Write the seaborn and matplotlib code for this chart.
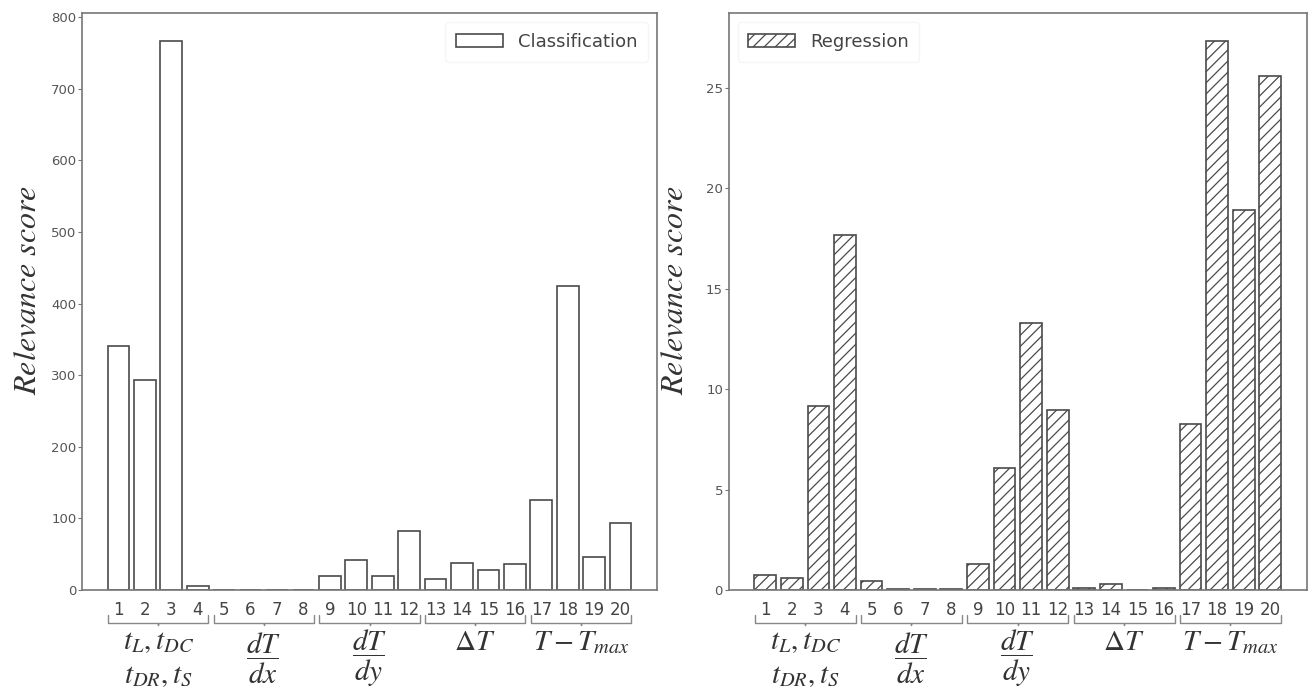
import numpy as np
import pandas as pd
import matplotlib
matplotlib.use("Agg")
import matplotlib.pyplot as plt
import seaborn as sns

# data
features = [str(i) for i in range(1, 21)]
classification = [341, 293, 767, 5, 0.5, 0.5, 0.5, 0.5, 20, 42, 20, 82,
                  15, 38, 28, 36, 125, 425, 46, 93]
regression = [0.73, 0.6, 9.14, 17.65, 0.43, 0.03, 0.03, 0.07, 1.28, 6.07,
              13.3, 8.94, 0.12, 0.28, 0.0, 0.08, 8.26, 27.33, 18.9, 25.59]
groups = ["$t_L, t_{DC}$\n$t_{DR}, t_S$", r"$\dfrac{dT}{dx}$", r"$\dfrac{dT}{dy}$",
          r"$\Delta T$", r"$T - T_{max}$"]

sns.set_style("white")
plt.rcParams["mathtext.fontset"] = "stix"
plt.rcParams["font.family"] = ["DejaVu Sans"]
plt.rcParams["hatch.color"] = "#3a3a3a"
plt.rcParams["hatch.linewidth"] = 0.9

df = pd.DataFrame({"feature": features, "cls": classification, "reg": regression})

fig = plt.figure(figsize=(13.12, 6.97), dpi=100)
ax1 = fig.add_axes([0.0625, 0.1535, 0.4383, 0.8275])
ax2 = fig.add_axes([0.5553, 0.1535, 0.4409, 0.8275])

edge = "#4a4a4a"
sns.barplot(data=df, x="feature", y="cls", color="white", edgecolor=edge,
            linewidth=1.2, width=0.82, saturation=1, label="Classification", ax=ax1)
sns.barplot(data=df, x="feature", y="reg", color="white", edgecolor=edge,
            linewidth=1.2, width=0.82, saturation=1, label="Regression", ax=ax2)
for p in ax2.patches:
    p.set_hatch("///")

ax1.set_ylim(0, max(classification) * 1.05)
ax2.set_ylim(0, max(regression) * 1.05)
ax1.set_yticks(range(0, 801, 100))
ax2.set_yticks(range(0, 26, 5))

for ax, leg_loc in [(ax1, "upper right"), (ax2, "upper left")]:
    ax.set_xlim(-1.38, 20.38)
    ax.set_xlabel("")
    ax.set_ylabel("$Relevance\\ score$", fontsize=23, color="#333333")
    ax.yaxis.set_label_coords(-0.068, 0.52)
    for s in ax.spines.values():
        s.set_color("#777777")
        s.set_linewidth(1.2)
    ax.tick_params(axis="x", length=0, pad=8, labelsize=12, labelcolor="#444444")
    ax.tick_params(axis="y", length=3, direction="out", left=True, color="#777777",
                   pad=1, labelsize=9.5, labelcolor="#555555")
    leg = ax.legend(loc=leg_loc, fontsize=13, frameon=True, handlelength=2.6,
                    borderpad=0.6, fancybox=True)
    leg.get_frame().set_edgecolor("#f3f3f3")
    for t in leg.get_texts():
        t.set_color("#444444")

    # braces and group labels under the ticks
    trans = ax.get_xaxis_transform()
    for g, name in enumerate(groups):
        a = g * 4 - 0.4
        b = g * 4 + 3 + 0.4
        m = (a + b) / 2
        ax.plot([a, a, m, m, m, b, b], [-0.044, -0.057, -0.057, -0.061, -0.057, -0.057, -0.044],
                transform=trans, clip_on=False, color="#888888", lw=1.0)
        y = -0.118 if g < 3 else -0.09
        ax.text(m, y, name, transform=trans, ha="center", va="center",
                fontsize=21, color="#333333", linespacing=1.3)

fig.savefig("out.png", dpi=100)
